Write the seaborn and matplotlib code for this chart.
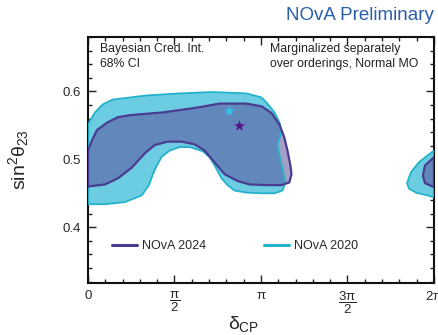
import numpy as np
import pandas as pd
import matplotlib
matplotlib.use("Agg")
import matplotlib.pyplot as plt
from matplotlib.lines import Line2D
import seaborn as sns

# ---------------- data (delta_CP in units of pi, sin^2 theta23) ----------------
nova2020_main_dcp = [0.000, 0.098, 0.213, 0.311, 0.352, 0.375, 0.398, 0.427, 0.473, 0.530,
                     0.588, 0.663, 0.703, 0.732, 0.772, 0.807, 0.847, 0.916, 1.003, 1.078,
                     1.124, 1.141, 1.124, 1.107, 1.095, 1.118, 1.107, 1.078, 1.037, 1.003,
                     0.916, 0.720, 0.530, 0.340, 0.242, 0.144, 0.086, 0.040, 0.012, 0.000]
nova2020_main_s23 = [0.434, 0.434, 0.437, 0.447, 0.462, 0.478, 0.491, 0.504, 0.513, 0.518,
                     0.518, 0.512, 0.503, 0.491, 0.472, 0.462, 0.454, 0.451, 0.450, 0.450,
                     0.454, 0.466, 0.487, 0.506, 0.521, 0.540, 0.554, 0.569, 0.582, 0.591,
                     0.597, 0.599, 0.597, 0.594, 0.591, 0.588, 0.581, 0.569, 0.557, 0.550]
nova2020_edge_dcp = [2.000, 1.914, 1.867, 1.844, 1.855, 1.896, 1.960, 2.000]
nova2020_edge_s23 = [0.513, 0.496, 0.481, 0.465, 0.457, 0.451, 0.447, 0.444]

nova2024_main_dcp = [0.000, 0.098, 0.173, 0.254, 0.329, 0.386, 0.461, 0.542, 0.617, 0.674,
                     0.720, 0.790, 0.865, 0.934, 1.032, 1.118, 1.164, 1.176, 1.170, 1.153,
                     1.135, 1.107, 1.061, 1.003, 0.916, 0.761, 0.628, 0.432, 0.242, 0.173,
                     0.110, 0.052, 0.023, 0.000]
nova2024_main_s23 = [0.460, 0.463, 0.472, 0.488, 0.509, 0.521, 0.526, 0.526, 0.522, 0.513,
                     0.499, 0.478, 0.468, 0.463, 0.462, 0.462, 0.466, 0.478, 0.491, 0.513,
                     0.532, 0.551, 0.568, 0.578, 0.582, 0.582, 0.576, 0.569, 0.565, 0.562,
                     0.554, 0.543, 0.528, 0.513]
nova2024_edge_dcp = [2.000, 1.948, 1.936, 1.948, 2.000]
nova2024_edge_s23 = [0.503, 0.491, 0.476, 0.465, 0.459]

best_fit_2020 = (0.818, 0.571)
best_fit_2024 = (0.876, 0.549)

series_labels = ["NOvA 2024", "NOvA 2020"]
xtick_vals = [0, 0.5, 1.0, 1.5, 2.0]
xtick_labels = ["0", r"$\dfrac{\pi}{2}$", r"$\pi$", r"$\dfrac{3\pi}{2}$", r"$2\pi$"]
ytick_vals = [0.4, 0.5, 0.6]

# ---------------- style ----------------
sns.set_theme(style="ticks")
plt.rcParams["font.family"] = ["Liberation Sans", "DejaVu Sans"]
plt.rcParams["mathtext.fontset"] = "custom"
plt.rcParams["mathtext.rm"] = "Liberation Sans"
plt.rcParams["mathtext.it"] = "Liberation Sans"
plt.rcParams["mathtext.bf"] = "Liberation Sans:bold"

c20_fill = "#6ccde2"
c20_edge = "#22b2cc"
c24_fill = "#5a4f9a"
c24_edge = "#4a3c90"

fig = plt.figure(figsize=(4.39, 3.35), dpi=100)
ax = fig.add_axes([88 / 439, 1 - 283 / 335, (434 - 88) / 439, (283 - 37) / 335])


def poly(dcp, s23):
    return pd.DataFrame({"dcp": np.array(dcp) * np.pi, "s23": np.array(s23)})


p20 = [poly(nova2020_main_dcp, nova2020_main_s23), poly(nova2020_edge_dcp, nova2020_edge_s23)]
p24 = [poly(nova2024_main_dcp, nova2024_main_s23), poly(nova2024_edge_dcp, nova2024_edge_s23)]

for df in p20:
    ax.fill(df["dcp"], df["s23"], color=c20_fill, lw=0, zorder=1)
for df in p24:
    ax.fill(df["dcp"], df["s23"], color=c24_fill, alpha=0.55, lw=0, zorder=2)
for df in p20:
    d = pd.concat([df, df.iloc[:1]], ignore_index=True)
    sns.lineplot(data=d, x="dcp", y="s23", sort=False, estimator=None, color=c20_edge,
                 lw=1.3, ax=ax, zorder=3)
for df in p24:
    d = pd.concat([df, df.iloc[:1]], ignore_index=True)
    sns.lineplot(data=d, x="dcp", y="s23", sort=False, estimator=None, color=c24_edge,
                 lw=1.6, ax=ax, zorder=4)

stars = pd.DataFrame({"dcp": [best_fit_2020[0] * np.pi, best_fit_2024[0] * np.pi],
                      "s23": [best_fit_2020[1], best_fit_2024[1]],
                      "set": ["2020", "2024"]})
sns.scatterplot(data=stars, x="dcp", y="s23", hue="set", palette={"2020": "#2ec4ee", "2024": "#5a0e8c"},
                marker="*", s=70, edgecolor="none", legend=False, ax=ax, zorder=5)

ax.set_xlim(0, 2 * np.pi)
ax.set_ylim(0.318, 0.680)

ax.set_xticks([v * np.pi for v in xtick_vals])
ax.set_xticklabels(xtick_labels, fontsize=9.5)
ax.set_xticks(np.arange(0, 2.001, 0.1) * np.pi, minor=True)
ax.set_yticks(ytick_vals)
ax.set_yticklabels([f"{v:.1f}" for v in ytick_vals], fontsize=9.5)
ax.set_yticks(np.arange(0.32, 0.681, 0.02), minor=True)
ax.tick_params(which="both", direction="in", top=True, right=True, color="#222222", width=1.0)
ax.tick_params(which="major", length=6, pad=5)
ax.tick_params(which="minor", length=3)
for s in ax.spines.values():
    s.set_linewidth(1.5)
    s.set_color("#111111")

ax.set_xlabel(r"$\delta_{\rm CP}$", fontsize=14)
ax.set_ylabel(r"$\mathrm{sin}^{2}\theta_{23}$", fontsize=14)
ax.xaxis.set_label_coords((244 - 88) / 346, -0.125)
ax.yaxis.set_label_coords(-0.165, 0.5)

ax.text(0.035, 0.975, "Bayesian Cred. Int.\n68% CI", transform=ax.transAxes, ha="left", va="top",
        fontsize=8.8, linespacing=1.3, color="#222222")
ax.text(0.525, 0.975, "Marginalized separately\nover orderings, Normal MO", transform=ax.transAxes,
        ha="left", va="top", fontsize=8.8, linespacing=1.3, color="#222222")

fig.text(434 / 439, 1 - 15 / 335, "NOvA Preliminary", ha="right", va="center", fontsize=13.5,
         color="#2a5ea8")

handles = [Line2D([0], [0], color=c24_edge, lw=2.2), Line2D([0], [0], color=c20_edge, lw=2.2)]
ax.legend(handles, series_labels, ncol=2, frameon=False, fontsize=9, loc="center left",
          bbox_to_anchor=(0.07, 0.15), handlelength=2.0, handletextpad=0.4,
          columnspacing=4.6, borderpad=0, borderaxespad=0)

sns.despine(ax=ax, top=False, right=False)
fig.savefig("out.png", dpi=100)
